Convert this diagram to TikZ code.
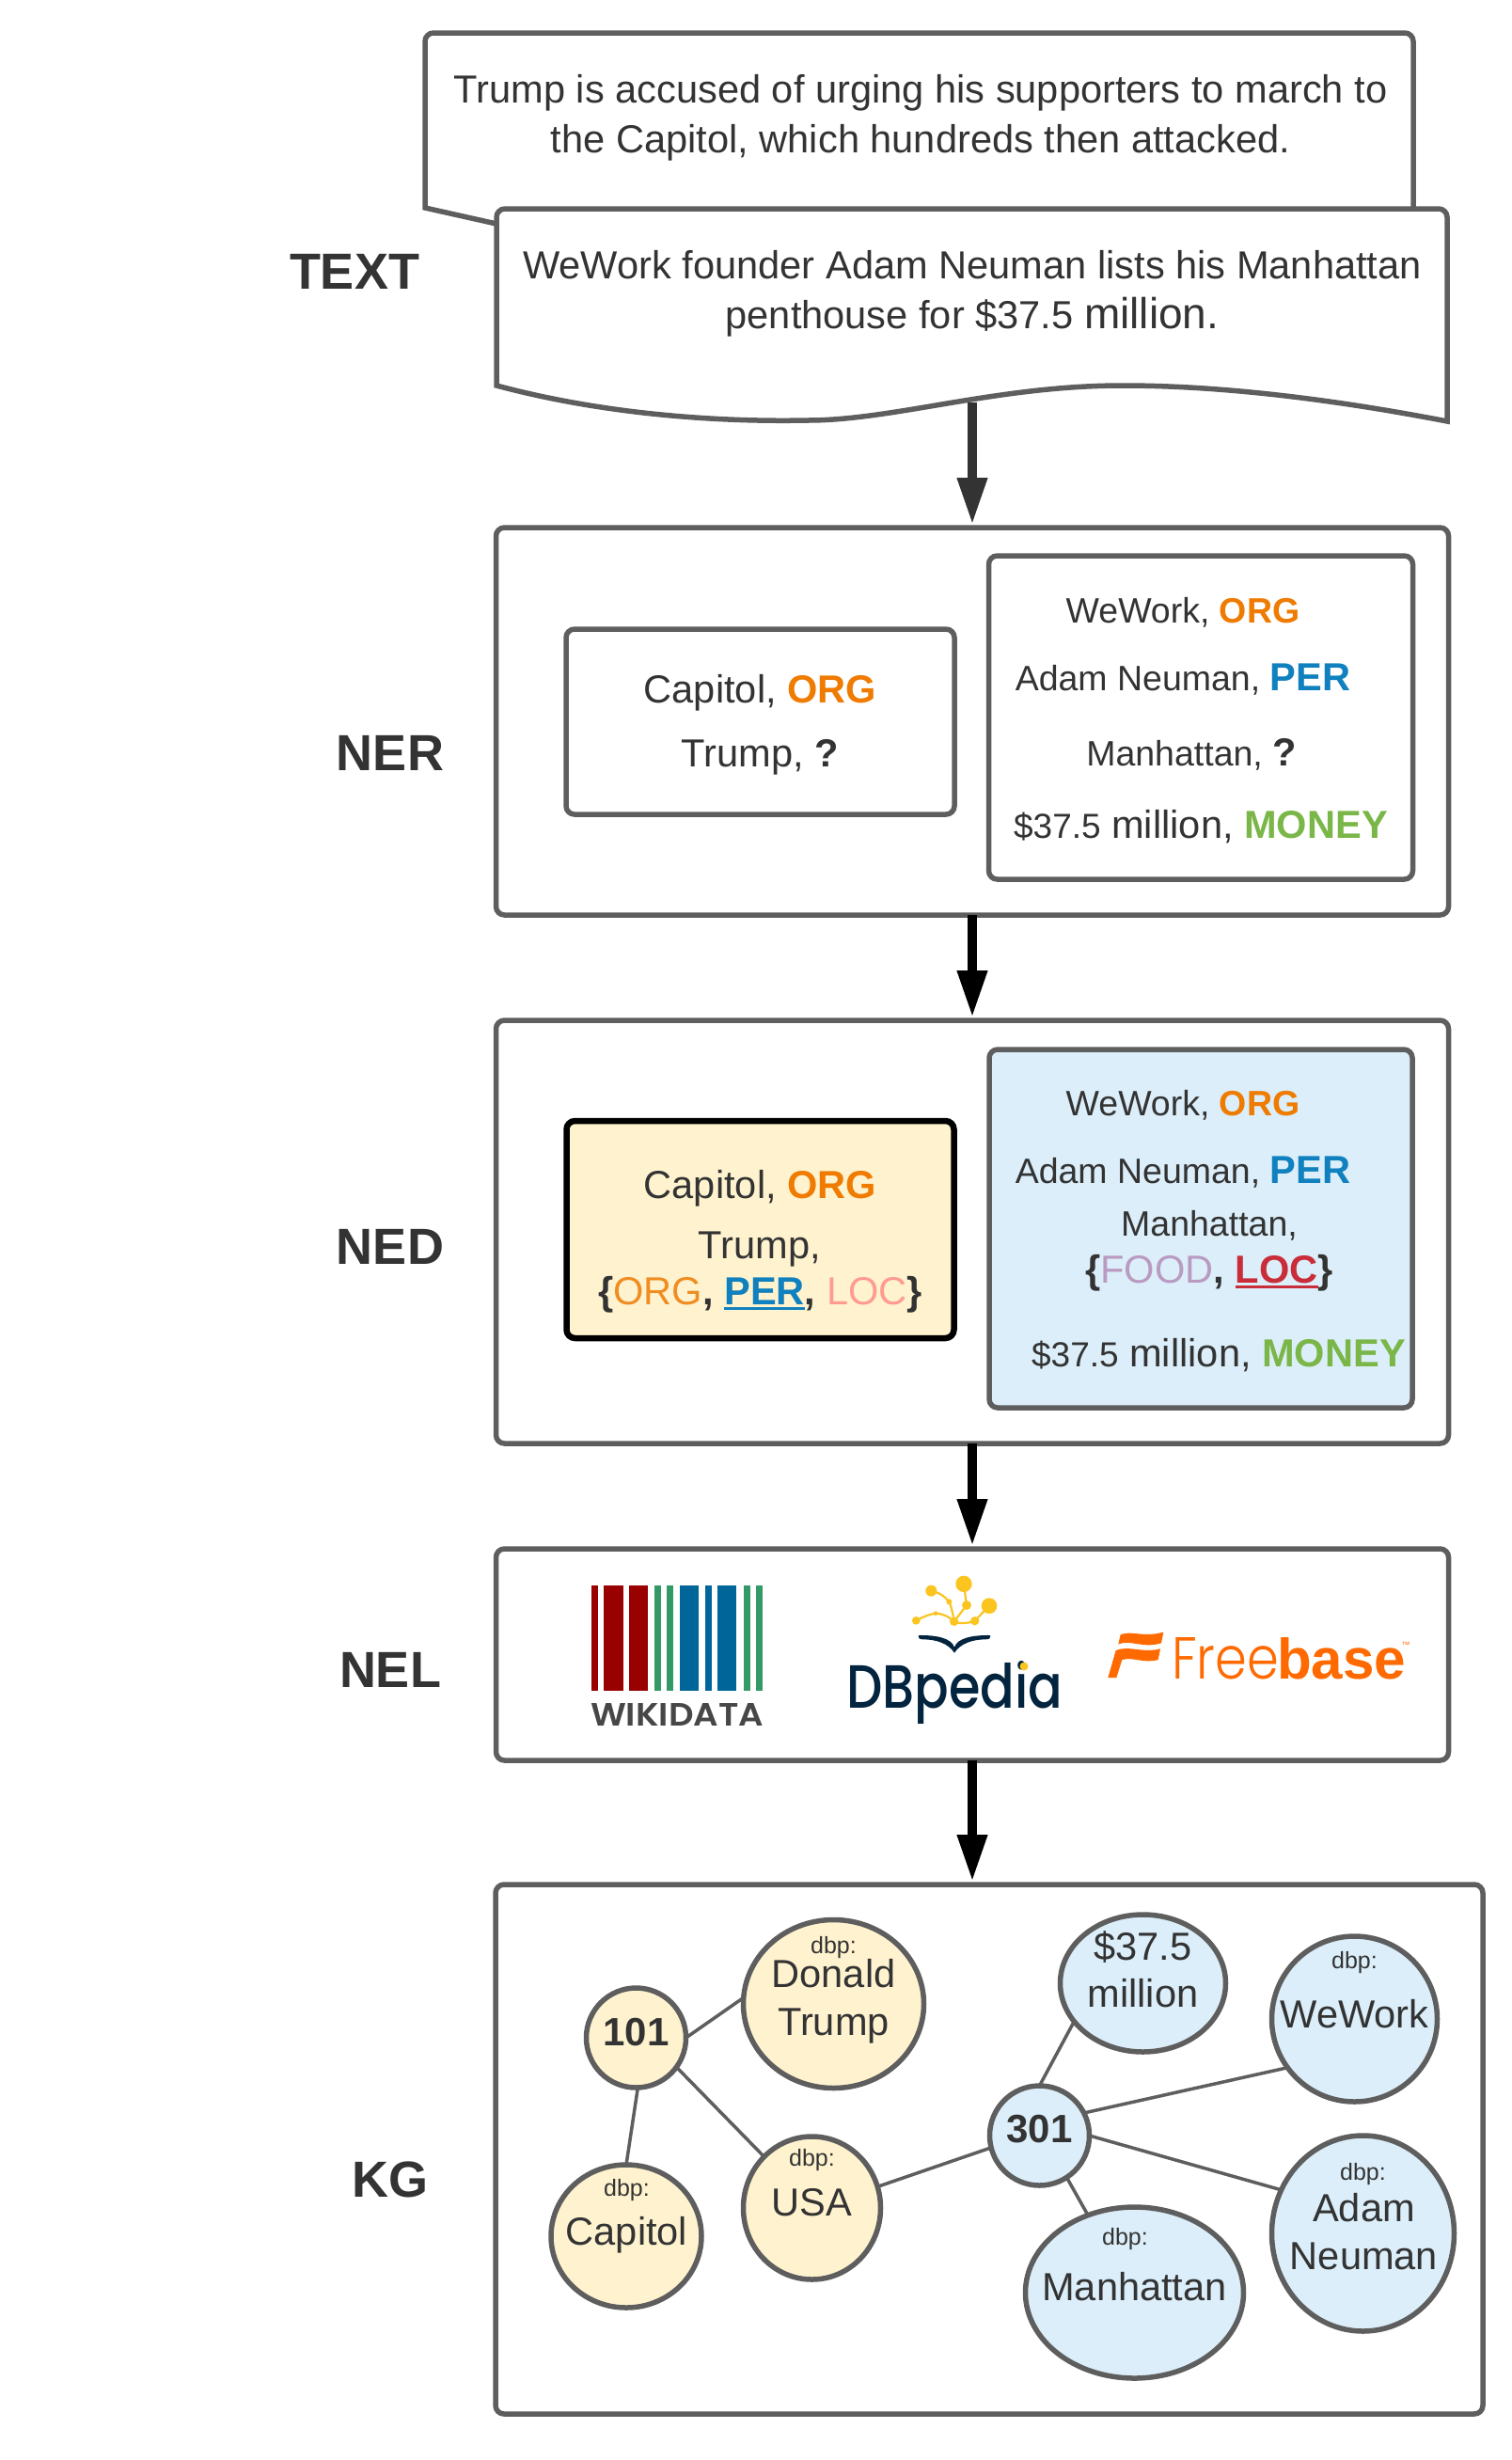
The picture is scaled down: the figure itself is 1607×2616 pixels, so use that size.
\documentclass[tikz,border=0pt]{standalone}
\usepackage{fontspec}
\setmainfont{Liberation Sans}
\newfontfamily\lightfont{Poppins Light}
\newfontfamily\dbfont{Poppins Medium}
\newfontfamily\wdfont{Poppins SemiBold}
\usetikzlibrary{arrows.meta,shapes.geometric}
\definecolor{ink}{HTML}{333333}
\definecolor{edgegray}{HTML}{5E5E5E}
\definecolor{orgc}{HTML}{EF7B00}
\definecolor{orgl}{HTML}{EF8D22}
\definecolor{perc}{HTML}{1080BE}
\definecolor{moneyc}{HTML}{7AB648}
\definecolor{locl}{HTML}{FF9B90}
\definecolor{locr}{HTML}{C92D39}
\definecolor{foodc}{HTML}{B99BC2}
\definecolor{yfill}{HTML}{FFF3CF}
\definecolor{bfill}{HTML}{DBEEF9}
\definecolor{wdred}{HTML}{990000}
\definecolor{wdgreen}{HTML}{339966}
\definecolor{wdblue}{HTML}{006699}
\definecolor{dbnavy}{HTML}{02243F}
\definecolor{dbyellow}{HTML}{FBC41F}
\definecolor{fborange}{HTML}{FF6A00}
\newcommand{\fs}[1]{\fontsize{#1}{#1}\selectfont}
\newcommand{\ulbar}[2]{\sbox0{#2}\rlap{\textcolor{#1}{\rule[-6pt]{\wd0}{3.5pt}}}\usebox0\relax}
\tikzset{
  txt/.style={anchor=base,inner sep=0pt,outer sep=0pt,text=ink,font=\fs{41.6}},
  slim/.style={txt,font=\fs{37.5}},
  small/.style={txt,font=\fs{25}},
  stage/.style={inner sep=0pt,text=ink,font=\fs{54}\bfseries},
  panel/.style={draw=edgegray,line width=5.5pt,rounded corners=9pt,fill=white,outer sep=0pt,inner sep=0pt},
  ent/.style={draw=edgegray,line width=5.5pt,ellipse,outer sep=0pt,inner sep=0pt},
  yent/.style={ent,fill=yfill},
  bent/.style={ent,fill=bfill},
  link/.style={draw=edgegray,line width=3.5pt},
  flow/.style={line width=10pt,shorten >=3pt,-{Triangle[length=50pt,width=30pt]}},
  docshape/.style={draw=edgegray,line width=5.5pt,fill=white,line join=miter},
}
\begin{document}
\begin{tikzpicture}[x=1pt,y=-1pt]
\useasboundingbox[fill=white] (0,0) rectangle (1607,2616);
% documents
\draw[docshape,rounded corners=9pt] (528,238) [sharp corners] -- (452,221) [rounded corners=9pt] -- (452,35) -- (1503,35) [sharp corners] -- (1503,238) -- cycle;
% panels
\node[panel,minimum width=1013pt,minimum height=412pt] (ner) at (1034,767) {};
\node[panel,minimum width=1013pt,minimum height=450pt] (ned) at (1034,1310) {};
\node[panel,minimum width=1013pt,minimum height=225pt] (nel) at (1034,1759.5) {};
\node[panel,minimum width=1050pt,minimum height=563pt] (kg) at (1052,2285.5) {};
\coordinate (docfoot) at (1034,428);
\draw[flow,ink] (docfoot) -- (ner.north);
\draw[docshape] (528,410) [rounded corners=9pt] -- (528,222) -- (1539,222) [sharp corners] -- (1539,448)
  .. controls (1420,425) and (1300,410) .. (1194,410)
  .. controls (1060,410) and (950,447) .. (859,447)
  .. controls (760,449) and (640,440) .. (528,410) -- cycle;
\node[txt] (t1a) at (979,109.5) {Trump is accused of urging his supporters to march to};
\node[txt] (t1b) at (979,162.5) {the Capitol, which hundreds then attacked.};
\node[txt] (t2a) at (1034,296) {WeWork founder Adam Neuman lists his Manhattan};
\node[txt] (t2b) at (1034,349) {penthouse for \$37.5 {\fs{46}million.}};
% stage labels
\node[stage] (ltext) at (377,289) {TEXT};
\node[stage] (lner) at (415,801) {NER};
\node[stage] (lned) at (415,1326) {NED};
\node[stage] (lnel) at (415,1776) {NEL};
\node[stage] (lkg) at (415,2318) {KG};
\draw[flow,black] (ner.south) -- (ned.north);
\draw[flow,black] (ned.south) -- (nel.north);
\draw[flow,black] (nel.south) -- (nel.south |- kg.north);
% NER
\node[panel,minimum width=413pt,minimum height=197pt] (nerl) at (808.5,767.5) {};
\node[panel,minimum width=451pt,minimum height=344pt] (nerr) at (1277,763) {};
\node[txt] (a1) at (808.5,747) {Capitol, {\color{orgc}\bfseries ORG}};
\node[txt] (a2) at (808.5,815) {Trump, \textbf{?}};
\node[slim] (a3) at (1258,662.5) {WeWork, {\color{orgc}\bfseries ORG}};
\node[slim] (a4) at (1258,734) {Adam Neuman, {\fs{41.6}\color{perc}\bfseries PER}};
\node[slim] (a5) at (1267,814) {Manhattan, {\fs{41.6}\bfseries ?}};
\node[txt] (a6) at (1277,891) {{\fs{37}\$37.5} million, {\color{moneyc}\bfseries MONEY}};
% NED
\node[panel,fill=yfill,draw=black,line width=6.5pt,minimum width=412pt,minimum height=231pt] (nedl) at (808.5,1307.5) {};
\node[panel,fill=bfill,minimum width=450pt,minimum height=381pt] (nedr) at (1277,1306.5) {};
\node[txt] (b1) at (808.5,1274) {Capitol, {\color{orgc}\bfseries ORG}};
\node[txt] (b2) at (808,1338) {Trump,};
\node[txt] (b3) at (808.5,1387) {\textbf{\{}{\color{orgl}ORG}\textbf{,} \ulbar{perc}{\color{perc}\bfseries PER}\textbf{,} {\color{locl}LOC}\textbf{\}}};
\node[slim] (b4) at (1258,1186) {WeWork, {\color{orgc}\bfseries ORG}};
\node[slim] (b5) at (1258,1258) {Adam Neuman, {\fs{41.6}\color{perc}\bfseries PER}};
\node[slim] (b6) at (1286,1314) {Manhattan,};
\node[txt] (b7) at (1286,1364) {\textbf{\{}{\color{foodc}FOOD}\textbf{,} \ulbar{locr}{\color{locr}\bfseries LOC}\textbf{\}}};
\node[txt] (b8) at (1296,1453) {{\fs{37}\$37.5} million, {\color{moneyc}\bfseries MONEY}};
% Wikidata logo
\foreach \xa/\xb/\c in {629/636/wdred,642/663/wdred,669/689/wdred,696/703/wdgreen,709/716/wdgreen,723/743/wdblue,750/757/wdblue,763/783/wdblue,791/798/wdgreen,804/811/wdgreen}
  \fill[\c] (\xa,1686) rectangle (\xb,1798);
\node[inner sep=0pt,anchor=base,text=black!72] (wikidata) at (720,1835) {\resizebox{184pt}{24pt}{\wdfont\fs{34}WIKIDATA}};
% DBpedia logo
\begin{scope}[shift={(880,1660)},x=0.3333pt,y=-0.3333pt]
  \draw[dbyellow,line width=2.2pt] (404,193) .. controls (400,165) and (395,145) .. (388,130) .. controls (375,112) and (355,100) .. (331,95);
  \draw[dbyellow,line width=2.2pt] (404,193) .. controls (385,175) and (365,168) .. (345,167) .. controls (325,170) and (305,178) .. (283,190);
  \draw[dbyellow,line width=2.2pt] (404,193) -- (444,141) -- (435,73);
  \draw[dbyellow,line width=2.2pt] (404,193) .. controls (425,203) and (450,198) .. (470,191) -- (516,143);
  \foreach \px/\py/\pr in {404/193/14,435/73/26,331/95/18,516/143/25,444/141/15,470/191/14,388/130/9,345/167/7,283/190/13}
    \fill[dbyellow] (\px,\py) circle[radius=\pr];
  \fill[dbnavy] (290,237) .. controls (345,236) and (395,245) .. (405,275) .. controls (415,245) and (465,236) .. (520,237) .. controls (521,245) and (518,250) .. (505,250) .. controls (465,250) and (425,262) .. (405,293) .. controls (385,262) and (345,250) .. (305,250) .. controls (292,250) and (289,245) .. (290,237) -- cycle;
\end{scope}
\node[inner sep=0pt,anchor=base,text=dbnavy] (dbpedia) at (1015,1816) {\resizebox{230pt}{50pt}{\dbfont\fs{62}DBpedia}};
\fill[dbyellow] (1089,1772) circle[radius=4.5];
% Freebase logo
\begin{scope}[shift={(1160,1710)},x=0.3333pt,y=-0.3333pt]
  \fill[fborange] (95,85) .. controls (130,70) and (165,95) .. (232,77) -- (225,112) .. controls (165,130) and (130,100) .. (88,115) -- cycle;
  \fill[fborange] (80,135) .. controls (125,118) and (165,145) .. (222,130) -- (215,165) .. controls (170,178) and (135,155) .. (100,165) -- (82,222) -- (55,222) -- cycle;
\end{scope}
\node[inner sep=0pt,anchor=base west,text=fborange] (fbfree) at (1246,1785) {\resizebox{114pt}{44pt}{\lightfont\fs{61}Free}};
\node[inner sep=0pt,anchor=base west,text=fborange] (fbbase) at (1358,1785) {\resizebox{137pt}{44pt}{\fs{62}\bfseries base}};
\node[inner sep=0pt,anchor=base,text=fborange] (fbtm) at (1495,1752) {\fs{9}™};
% KG
\begin{scope}[xshift=1.5pt]
\node[yent,minimum width=106pt,minimum height=106pt] (n101) at (675,2167) {};
\node[yent,minimum width=192pt,minimum height=179pt] (ndt) at (885,2131) {};
\node[yent,minimum width=146pt,minimum height=152pt] (nusa) at (862,2348) {};
\node[yent,minimum width=160pt,minimum height=152pt] (ncap) at (664.5,2378) {};
\node[bent,minimum width=106pt,minimum height=106pt] (n301) at (1104,2271) {};
\node[bent,minimum width=176pt,minimum height=146pt] (nmon) at (1214,2109) {};
\node[bent,minimum width=176pt,minimum height=176pt] (nwe) at (1439,2147) {};
\node[bent,minimum width=194pt,minimum height=208pt] (nadam) at (1448,2375) {};
\node[bent,minimum width=232pt,minimum height=182pt] (nman) at (1205,2438) {};
\draw[link] (n101.0) -- (ndt.176);
\draw[link] (n101.-36) -- (nusa.133);
\draw[link] (n101.-88) -- (ncap.90);
\draw[link] (nusa.18) -- (n301.194);
\draw[link] (n301.90) -- (nmon.209);
\draw[link] (n301.27) -- (nwe.216);
\draw[link] (n301.0) -- (nadam.152);
\draw[link] (n301.-57) -- (nman.121);
\node[txt,font=\fs{42}\bfseries] (k101) at (675,2175) {101};
\node[txt,font=\fs{42}\bfseries] (k301) at (1104,2278) {301};
\node[small] (kd1) at (885,2077) {dbp:};
\node[txt] (kd2) at (885,2113) {Donald};
\node[txt] (kd3) at (885,2164) {Trump};
\node[small] (ku1) at (862,2303) {dbp:};
\node[txt] (ku2) at (862,2356) {USA};
\node[small] (kc1) at (665,2335) {dbp:};
\node[txt] (kc2) at (665,2387) {Capitol};
\node[txt] (km1) at (1214,2084) {\$37.5};
\node[txt] (km2) at (1214,2134) {million};
\node[small] (kw1) at (1439,2093) {dbp:};
\node[txt] (kw2) at (1439,2156) {WeWork};
\node[small] (ka1) at (1448,2318) {dbp:};
\node[txt] (ka2) at (1449,2362) {Adam};
\node[txt] (ka3) at (1449,2413) {Neuman};
\node[small] (kn1) at (1195,2387) {dbp:};
\node[txt] (kn2) at (1205,2446) {Manhattan};
\end{scope}
\end{tikzpicture}
\end{document}
